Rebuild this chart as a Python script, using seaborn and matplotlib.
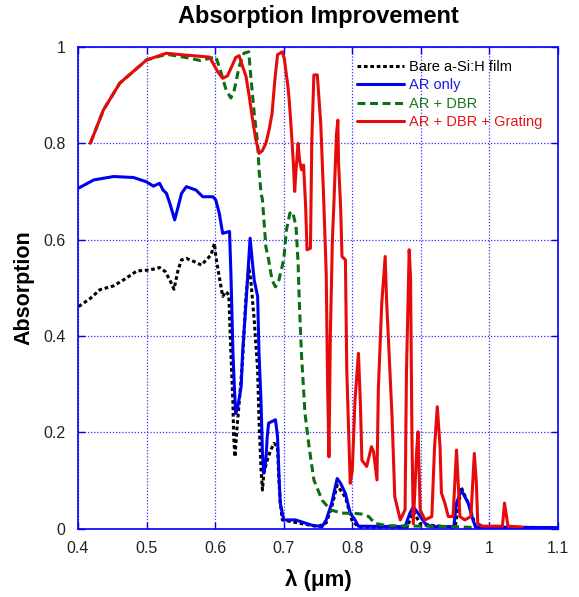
import matplotlib
matplotlib.use("Agg")
import matplotlib.pyplot as plt
import seaborn as sns
import pandas as pd

# ---- data ----
bare_x = [0.401, 0.418, 0.432, 0.452, 0.466, 0.486, 0.505, 0.519, 0.527, 0.534, 0.540, 0.546, 0.551,
          0.558, 0.570, 0.580, 0.587, 0.594, 0.599, 0.601, 0.606, 0.611, 0.616, 0.620, 0.623, 0.626,
          0.627, 0.629, 0.632, 0.635, 0.640, 0.645, 0.649, 0.652, 0.657, 0.662, 0.664, 0.667, 0.669,
          0.671, 0.676, 0.681, 0.686, 0.691, 0.693, 0.695, 0.698, 0.720, 0.750, 0.762, 0.770, 0.778,
          0.790, 0.800, 0.810, 0.880, 0.889, 0.900, 0.950, 0.959, 0.970, 0.980, 1.100]
bare_y = [0.461, 0.478, 0.496, 0.504, 0.516, 0.535, 0.537, 0.542, 0.534, 0.516, 0.497, 0.537, 0.558,
          0.561, 0.554, 0.547, 0.558, 0.568, 0.592, 0.565, 0.523, 0.482, 0.492, 0.485, 0.364, 0.260,
          0.191, 0.149, 0.212, 0.260, 0.350, 0.482, 0.544, 0.516, 0.433, 0.329, 0.226, 0.122, 0.080,
          0.115, 0.142, 0.163, 0.177, 0.170, 0.101, 0.053, 0.018, 0.012, 0.004, 0.012, 0.045, 0.090,
          0.065, 0.015, 0.003, 0.003, 0.035, 0.008, 0.003, 0.085, 0.050, 0.003, 0.002]

ar_x = [0.401, 0.423, 0.452, 0.481, 0.500, 0.510, 0.519, 0.524, 0.529, 0.534, 0.541, 0.546, 0.551,
        0.558, 0.572, 0.582, 0.597, 0.601, 0.606, 0.611, 0.621, 0.623, 0.626, 0.628, 0.630, 0.633,
        0.638, 0.640, 0.645, 0.649, 0.651, 0.654, 0.657, 0.662, 0.664, 0.667, 0.669, 0.671, 0.674,
        0.676, 0.678, 0.688, 0.691, 0.693, 0.695, 0.700, 0.717, 0.726, 0.741, 0.756, 0.762, 0.770,
        0.778, 0.783, 0.790, 0.797, 0.804, 0.809, 0.877, 0.884, 0.889, 0.896, 0.906, 0.915, 0.948,
        0.952, 0.959, 0.969, 0.976, 0.980, 1.100]
ar_y = [0.707, 0.724, 0.731, 0.729, 0.720, 0.711, 0.717, 0.703, 0.696, 0.675, 0.641, 0.668, 0.696,
        0.710, 0.703, 0.689, 0.689, 0.682, 0.655, 0.613, 0.617, 0.530, 0.364, 0.295, 0.239, 0.253,
        0.295, 0.364, 0.468, 0.558, 0.603, 0.558, 0.516, 0.482, 0.364, 0.260, 0.156, 0.115, 0.142,
        0.191, 0.219, 0.226, 0.191, 0.115, 0.053, 0.018, 0.018, 0.014, 0.007, 0.004, 0.018, 0.053,
        0.104, 0.094, 0.073, 0.032, 0.018, 0.005, 0.004, 0.032, 0.045, 0.032, 0.011, 0.004, 0.004,
        0.053, 0.080, 0.053, 0.018, 0.003, 0.002]

dbr_x = [0.418, 0.437, 0.461, 0.500, 0.529, 0.558, 0.578, 0.597, 0.601, 0.608, 0.616, 0.623, 0.628,
         0.635, 0.642, 0.649, 0.652, 0.657, 0.662, 0.664, 0.667, 0.669, 0.674, 0.678, 0.683, 0.688,
         0.693, 0.700, 0.704, 0.709, 0.713, 0.718, 0.721, 0.723, 0.726, 0.731, 0.737, 0.744, 0.756,
         0.768, 0.785, 0.802, 0.814, 0.824, 0.833, 0.850, 0.950, 0.980]
dbr_y = [0.800, 0.869, 0.925, 0.973, 0.985, 0.978, 0.972, 0.978, 0.980, 0.950, 0.911, 0.894, 0.911,
         0.959, 0.987, 0.990, 0.939, 0.862, 0.800, 0.745, 0.696, 0.683, 0.585, 0.558, 0.516, 0.502,
         0.516, 0.558, 0.620, 0.655, 0.658, 0.627, 0.551, 0.461, 0.360, 0.240, 0.170, 0.101, 0.059,
         0.039, 0.032, 0.032, 0.030, 0.025, 0.011, 0.006, 0.004, 0.002]

grat_x = [0.418, 0.437, 0.461, 0.500, 0.529, 0.558, 0.592, 0.597, 0.604, 0.611, 0.618, 0.625, 0.630,
          0.635, 0.640, 0.645, 0.650, 0.654, 0.659, 0.664, 0.669, 0.674, 0.679, 0.683, 0.687, 0.691,
          0.698, 0.701, 0.703, 0.706, 0.708, 0.710, 0.712, 0.714, 0.716, 0.718, 0.721, 0.723, 0.726,
          0.729, 0.732, 0.734, 0.739, 0.741, 0.744, 0.749, 0.754, 0.758, 0.762, 0.764, 0.766, 0.768,
          0.771, 0.773, 0.777, 0.779, 0.780, 0.783, 0.785, 0.790, 0.792, 0.797, 0.800, 0.804, 0.809,
          0.812, 0.814, 0.821, 0.828, 0.831, 0.836, 0.838, 0.843, 0.848, 0.850, 0.853, 0.858, 0.862,
          0.870, 0.877, 0.879, 0.883, 0.885, 0.887, 0.889, 0.894, 0.896, 0.899, 0.906, 0.916, 0.920,
          0.924, 0.928, 0.930, 0.935, 0.940, 0.947, 0.952, 0.954, 0.957, 0.964, 0.973, 0.978, 0.981,
          0.983, 0.990, 1.019, 1.022, 1.025, 1.027, 1.048]
grat_y = [0.800, 0.869, 0.925, 0.973, 0.987, 0.983, 0.979, 0.966, 0.948, 0.935, 0.940, 0.962, 0.978,
          0.982, 0.960, 0.939, 0.895, 0.855, 0.810, 0.779, 0.785, 0.800, 0.830, 0.862, 0.930, 0.984,
          0.990, 0.975, 0.952, 0.920, 0.890, 0.850, 0.807, 0.760, 0.700, 0.745, 0.800, 0.766, 0.745,
          0.755, 0.668, 0.579, 0.582, 0.807, 0.942, 0.942, 0.842, 0.697, 0.530, 0.300, 0.149, 0.400,
          0.600, 0.668, 0.820, 0.848, 0.759, 0.668, 0.565, 0.558, 0.329, 0.094, 0.120, 0.267, 0.364,
          0.253, 0.142, 0.129, 0.170, 0.160, 0.101, 0.288, 0.468, 0.565, 0.475, 0.385, 0.232, 0.066,
          0.018, 0.039, 0.323, 0.579, 0.520, 0.191, 0.010, 0.163, 0.201, 0.039, 0.018, 0.025, 0.170,
          0.253, 0.170, 0.074, 0.053, 0.025, 0.025, 0.163, 0.108, 0.025, 0.018, 0.025, 0.156, 0.094,
          0.010, 0.005, 0.005, 0.053, 0.025, 0.005, 0.003]

labels = ["Bare a-Si:H film", "AR only", "AR + DBR", "AR + DBR + Grating"]
x_ticks = [0.4, 0.5, 0.6, 0.7, 0.8, 0.9, 1.0, 1.1]
x_tick_labels = ["0.4", "0.5", "0.6", "0.7", "0.8", "0.9", "1", "1.1"]
y_ticks = [0, 0.2, 0.4, 0.6, 0.8, 1.0]
y_tick_labels = ["0", "0.2", "0.4", "0.6", "0.8", "1"]

# ---- style ----
sns.set_theme(style="white")
plt.rcParams["font.family"] = ["Liberation Sans", "DejaVu Sans"]

fig = plt.figure(figsize=(5.79, 5.97), dpi=100)
ax = fig.add_axes([0.1347, 0.1146, 0.829, 0.8067])

blue = "#0000ff"
colors = ["#000000", "#0000f0", "#0a6e14", "#e60a0a"]
text_colors = ["#000000", "#1a1ae6", "#1a7a1a", "#e61414"]

series = [(bare_x, bare_y), (ar_x, ar_y), (dbr_x, dbr_y), (grat_x, grat_y)]
styles = [dict(linestyle=(0, (1.2, 0.9))), dict(linestyle="-"),
          dict(linestyle=(0, (2.6, 1.5))), dict(linestyle="-")]

for (xs, ys), lab, c, st in zip(series, labels, colors, styles):
    df = pd.DataFrame({"wl": xs, "abs": ys})
    sns.lineplot(data=df, x="wl", y="abs", ax=ax, color=c, lw=2.2,
                 label=lab, estimator=None, sort=False, **st)

ax.set_xlim(0.4, 1.1)
ax.set_ylim(0, 1)
ax.set_xticks(x_ticks)
ax.set_xticklabels(x_tick_labels)
ax.set_yticks(y_ticks)
ax.set_yticklabels(y_tick_labels)
ax.grid(True, color=blue, linestyle=(0, (1, 1.5)), linewidth=0.9, alpha=0.8)
for s in ax.spines.values():
    s.set_color(blue)
    s.set_linewidth(1.2)
ax.tick_params(direction="in", length=5, width=1, color=blue, top=True, right=True,
               labelsize=11.5, labelcolor="#222222", pad=9,
               bottom=True, left=True)

ax.set_title("Absorption Improvement", fontsize=17, fontweight="bold", pad=17, color="black")
ax.set_xlabel("λ (μm)", fontsize=16, fontweight="bold", labelpad=9, color="black")
ax.set_ylabel("Absorption", fontsize=15.5, fontweight="bold", labelpad=6, color="black")

leg = ax.legend(loc="upper left", bbox_to_anchor=(0.57, 0.985), frameon=False,
                fontsize=10.5, handlelength=3.2, handletextpad=0.35, labelspacing=0.3,
                borderaxespad=0)
for t, tc in zip(leg.get_texts(), text_colors):
    t.set_color(tc)

fig.savefig("out.png", dpi=100)
